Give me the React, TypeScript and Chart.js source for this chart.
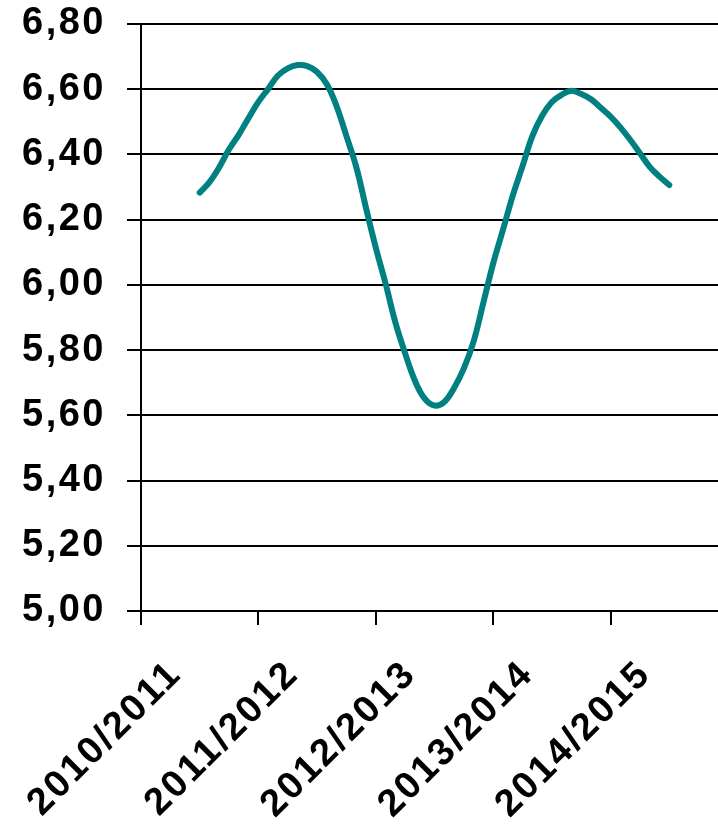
import React, { useEffect, useRef } from "react";
import { Chart, registerables } from "chart.js";

Chart.register(...registerables);

const seasons = ["2010/2011", "2011/2012", "2012/2013", "2013/2014", "2014/2015"];

// Monthly readings along the curve (start of 2010/2011 to start of 2014/2015), 12 points per season
const monthlyValues = [
  6.283, 6.315, 6.361, 6.416, 6.461, 6.512, 6.561, 6.601, 6.642, 6.664, 6.674, 6.671,
  6.653, 6.615, 6.547, 6.456, 6.362, 6.236, 6.114, 6.004, 5.885, 5.790, 5.706, 5.651,
  5.630, 5.641, 5.684, 5.744, 5.827, 5.946, 6.066, 6.169, 6.274, 6.364, 6.456, 6.519,
  6.561, 6.583, 6.595, 6.585, 6.569, 6.543, 6.516, 6.483, 6.445, 6.404, 6.362, 6.332,
  6.306,
];

const yMin = 5.0;
const yMax = 6.8;
const yStep = 0.2;

const FONT = "'Liberation Sans', Arial, sans-serif";

export default function App() {
  const canvasRef = useRef<HTMLCanvasElement | null>(null);

  useEffect(() => {
    const canvas = canvasRef.current;
    if (!canvas) return;
    const ls = {
      id: "letterSpacing",
      beforeLayout(chart: any) {
        (chart.ctx as any).letterSpacing = "2.5px";
      },
      beforeDraw(chart: any) {
        (chart.ctx as any).letterSpacing = "2.5px";
      },
    };
    const points = monthlyValues.map((v, i) => ({ x: i / 12, y: v }));
    const chart = new Chart(canvas, {
      type: "line",
      data: {
        labels: seasons,
        datasets: [
          {
            data: points as any,
            xAxisID: "x2",
            borderColor: "#008080",
            borderWidth: 6,
            pointRadius: 0,
            tension: 0.4,
            fill: false,
            borderCapStyle: "round",
            borderJoinStyle: "round",
          },
        ],
      },
      options: {
        responsive: false,
        maintainAspectRatio: false,
        animation: false,
        devicePixelRatio: 1,
        layout: { padding: { top: 24, right: 2, left: 0, bottom: 0 } },
        plugins: { legend: { display: false }, tooltip: { enabled: false } },
        scales: {
          x: {
            type: "category",
            offset: true,
            grid: {
              display: true,
              drawOnChartArea: false,
              drawTicks: true,
              tickLength: 14,
              color: "#000",
              lineWidth: 2,
              offset: true,
            },
            border: { display: true, color: "#000", width: 2 },
            ticks: {
              color: "#000",
              font: { family: FONT, weight: "bold", size: 38 },
              minRotation: 45,
              maxRotation: 45,
              autoSkip: false,
              padding: 27,
              labelOffset: -24,
            },
            afterFit: (s: any) => {
              s.height = 219;
              s.paddingLeft = 0;
              s.paddingRight = 0;
              s.paddingTop = 0;
              s.paddingBottom = 0;
            },
          },
          x2: {
            type: "linear",
            display: false,
            min: -0.5,
            max: 4.5,
          },
          y: {
            min: yMin,
            max: yMax,
            grid: {
              color: "#000",
              lineWidth: 2,
              tickLength: 14,
              drawTicks: true,
            },
            border: { display: true, color: "#000", width: 2 },
            ticks: {
              stepSize: yStep,
              color: "#000",
              font: { family: FONT, weight: "bold", size: 38 },
              padding: 21,
              callback: (v: any) => Number(v).toFixed(2).replace(".", ","),
            },
            afterFit: (s: any) => {
              s.width = 141;
              s.paddingTop = 0;
              s.paddingBottom = 0;
            },
          },
        },
      },
      plugins: [ls],
    });
    return () => chart.destroy();
  }, []);

  return (
    <div
      style={{
        position: "absolute",
        left: 0,
        top: 0,
        width: 718,
        height: 830,
        overflow: "hidden",
        background: "#fff",
      }}
    >
      <canvas ref={canvasRef} width={730} height={830} style={{ display: "block" }} />
    </div>
  );
}
